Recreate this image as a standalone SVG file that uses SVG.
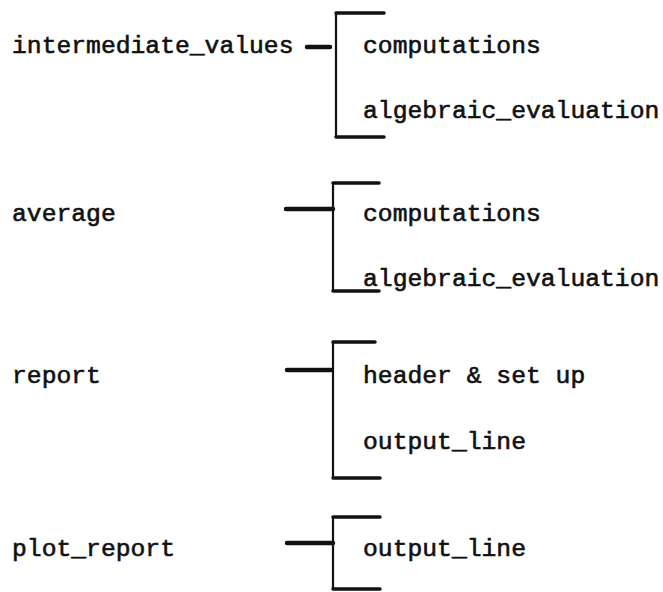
<svg xmlns="http://www.w3.org/2000/svg" width="663" height="592" viewBox="0 0 663 592">
<style>
text { font-family: "Liberation Mono", "DejaVu Sans Mono", monospace; font-size: 24.7px; fill: #111; stroke: #111; stroke-width: 0.6; }
.br { fill: none; stroke: #111; stroke-width: 2.2; }
.cap { stroke: #111; stroke-width: 3.5; stroke-linecap: round; }
.stub { stroke: #111; stroke-width: 4.5; stroke-linecap: round; }
</style>
<rect width="663" height="592" fill="#fff"/>
<g id="node-intermediate_values">
  <text x="12" y="53">intermediate_values</text>
  <text x="363" y="53">computations</text>
  <text x="363" y="118">algebraic_evaluation</text>
</g>
<g id="node-average">
  <text x="12" y="221">average</text>
  <text x="363" y="221">computations</text>
  <text x="363" y="286">algebraic_evaluation</text>
</g>
<g id="node-report">
  <text x="12" y="383">report</text>
  <text x="363" y="383">header &amp; set up</text>
  <text x="363" y="449">output_line</text>
</g>
<g id="node-plot_report">
  <text x="12" y="556">plot_report</text>
  <text x="363" y="556">output_line</text>
</g>
<g id="connectors">
  <path class="br" d="M336,13 V137"/>
  <line class="cap" x1="336" y1="13" x2="384" y2="13"/>
  <line class="cap" x1="336" y1="137" x2="384" y2="137"/>
  <line class="stub" x1="307" y1="47" x2="330" y2="47"/>

  <path class="br" d="M333,183 V291"/>
  <line class="cap" x1="333" y1="183" x2="379" y2="183"/>
  <line class="cap" x1="333" y1="291" x2="379" y2="291"/>
  <line class="stub" x1="286" y1="209" x2="333" y2="209"/>

  <path class="br" d="M333,342 V478"/>
  <line class="cap" x1="333" y1="342" x2="375" y2="342"/>
  <line class="cap" x1="333" y1="478" x2="380" y2="478"/>
  <line class="stub" x1="287" y1="370" x2="331" y2="370"/>

  <path class="br" d="M333,517 V589"/>
  <line class="cap" x1="333" y1="517" x2="380" y2="517"/>
  <line class="cap" x1="333" y1="589" x2="380" y2="589"/>
  <line class="stub" x1="287" y1="543" x2="333" y2="543"/>
</g>
</svg>
